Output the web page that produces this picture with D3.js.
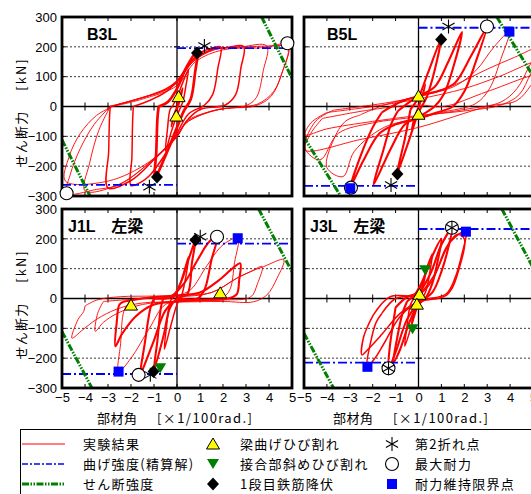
<!DOCTYPE html>
<html>
<head>
<meta charset="utf-8">
<script src="https://cdn.jsdelivr.net/npm/d3@7"></script>
<style>
  body { margin: 0; background: #fff; }
  svg { display: block; }
</style>
</head>
<body>
<script>
// axis values
const xTicks = [-5, -4, -3, -2, -1, 0, 1, 2, 3, 4, 5];
const xTickLabels = ["−5", "−4", "−3", "−2", "−1", "0", "1", "2", "3", "4", "5"];
const yTicks = [-300, -200, -100, 0, 100, 200, 300];
const yTickLabels = ["−300", "−200", "−100", "0", "100", "200", "300"];
const gridValues = [-200, -100, 100, 200];

// hysteresis loops: [rotation x1/100 rad, shear kN], n = repeated cycles
const b3lLoops = [
  {n: 2, pts: [[0,0],[0.12,35],[0.25,62],[0.16,28],[0.05,0],[-0.1,-30],[-0.25,-68],[-0.15,-30],[0,0]]},
  {n: 2, pts: [[-0.2,0],[0,30],[0.25,80],[0.5,125],[0.4,75],[0.25,15],[0,-30],[-0.25,-85],[-0.5,-150],[-0.42,-80],[-0.3,-10],[-0.2,0]]},
  {n: 4, pts: [[-0.8,0],[-0.4,15],[0,60],[0.4,130],[0.88,185],[0.78,110],[0.6,25],[0.3,-15],[0,-70],[-0.5,-165],[-0.95,-236],[-0.9,-150],[-0.85,-40],[-0.8,0]]},
  {n: 2, pts: [[-1.9,0],[-1.2,20],[-0.5,48],[0,85],[0.5,140],[1,180],[1.5,195],[1.9,200],[1.78,130],[1.55,40],[1.2,5],[0.5,-25],[0,-90],[-0.6,-170],[-1.2,-232],[-1.6,-255],[-2,-265],[-1.96,-170],[-1.93,-50],[-1.9,0]]},
  {n: 2, pts: [[-2.9,0],[-2,18],[-1.16,38],[-0.5,58],[0,85],[0.7,155],[1.5,190],[2.2,198],[2.9,201],[2.78,130],[2.55,40],[2.1,5],[1,-10],[0.4,-50],[0,-100],[-0.9,-170],[-2,-248],[-3,-273],[-2.97,-150],[-2.93,-30],[-2.9,0]]},
  {n: 1, pts: [[-2.9,0],[-1.5,30],[-0.5,55],[0,80],[0.7,150],[1.6,190],[2.8,200],[3.9,203],[3.75,120],[3.45,30],[3.0,3],[1.7,-12],[0.4,-55],[0,-100],[-0.9,-168],[-2.5,-260],[-4.0,-283],[-3.8,-190],[-3.4,-80],[-2.9,0]]},
  {n: 1, pts: [[-2.9,0],[-1.5,30],[-0.5,55],[0,80],[0.7,150],[1.6,190],[3,200],[4,203],[4.85,207],[4.6,120],[4.2,50],[3.5,8],[2.5,-3],[1.5,-15],[0.4,-55],[0,-100],[-1,-175],[-2.5,-262],[-3.5,-278],[-4.8,-291],[-4.65,-230],[-4.2,-140],[-3.6,-60],[-2.9,0]]},
  {n: 1, pts: [[-2.8,0],[-1.5,25],[0,70],[0.8,150],[2,190],[3.5,196],[4.8,198],[4.55,110],[4.1,35],[3.4,2],[2,-8],[0.5,-45],[0,-95],[-1.2,-185],[-3,-250],[-4.85,-250],[-4.7,-170],[-4.2,-90],[-3.5,-30],[-2.8,0]]}
];
const b5lLoops = [
  {n: 2, pts: [[0,0],[0.15,35],[0.3,75],[0.2,40],[0.05,5],[-0.1,-25],[-0.3,-80],[-0.2,-40],[0,0]]},
  {n: 3, pts: [[-0.35,-10],[0,30],[0.4,110],[0.97,222],[0.7,120],[0.35,30],[0,-20],[-0.4,-110],[-0.95,-228],[-0.6,-110],[-0.35,-10]]},
  {n: 3, pts: [[-0.9,-15],[-0.4,15],[0,35],[0.7,65],[1.3,150],[1.9,250],[1.55,140],[1.1,40],[0.7,0],[0,-35],[-0.6,-60],[-1.2,-140],[-1.97,-263],[-1.55,-150],[-1.2,-60],[-0.9,-15]]},
  {n: 3, pts: [[-1.6,-20],[-0.8,15],[0,35],[1.0,55],[1.6,80],[2.3,170],[2.97,262],[2.5,150],[2.0,50],[1.5,0],[0.8,-20],[0,-40],[-1.0,-60],[-1.7,-90],[-2.4,-180],[-2.98,-270],[-2.5,-160],[-2.0,-70],[-1.6,-20]]},
  {n: 1, pts: [[-2.6,-30],[-1.5,5],[0,35],[1.5,65],[2.5,120],[3.3,200],[3.97,251],[3.6,160],[3.1,60],[2.5,10],[1,-20],[0,-40],[-1.5,-70],[-2.8,-150],[-3.3,-235],[-4.0,-205],[-3.7,-110],[-3.2,-50],[-2.6,-30]]},
  {n: 1, pts: [[-3.7,-12],[-1.5,11],[0,33],[1.5,70],[3,125],[4.2,165],[5.2,195],[4.8,130],[4.3,60],[3.6,15],[2,-10],[0,-34],[-2,-55],[-3.5,-90],[-4.3,-179],[-4.95,-140],[-4.5,-50],[-3.7,-12]]},
  {n: 1, pts: [[-4,-20],[-2,0],[0,25],[2,60],[3.5,100],[5.2,150],[4.9,110],[4.4,40],[3.6,5],[2,-15],[0,-30],[-2,-50],[-4,-75],[-4.95,-95],[-4.7,-55],[-4,-20]]},
  {n: 1, pts: [[-4.2,-40],[-2,-10],[0,5],[1.1,0],[3,50],[5.2,105],[4.9,70],[4.3,20],[3,0],[0,-70],[-2.5,-110],[-4.95,-146],[-4.7,-90],[-4.2,-40]]}
];
const j1lLoops = [
  {n: 2, pts: [[-0.2,0],[0,20],[0.3,90],[0.5,140],[0.4,80],[0.2,10],[0,-20],[-0.3,-100],[-0.55,-170],[-0.45,-90],[-0.3,-10],[-0.2,0]]},
  {n: 3, pts: [[-0.6,0],[-0.2,5],[0.2,60],[0.5,130],[0.8,195],[0.65,120],[0.45,15],[0,0],[-0.3,-30],[-0.6,-130],[-1.0,-238],[-0.85,-140],[-0.7,-30],[-0.6,0]]},
  {n: 3, pts: [[-1.0,0],[-0.3,5],[0.3,50],[0.9,130],[1.4,190],[1.74,207],[1.5,130],[1.2,30],[0.9,0],[0,-5],[-0.5,-40],[-1.0,-140],[-1.4,-220],[-1.6,-256],[-1.4,-150],[-1.15,-30],[-1.0,0]]},
  {n: 1, pts: [[-2.0,-5],[-1,5],[0,10],[0.6,30],[1.3,110],[2.0,180],[2.64,202],[2.5,120],[2.3,30],[2.0,5],[0.5,-5],[-0.5,-20],[-1.2,-100],[-2.0,-200],[-2.54,-245],[-2.45,-150],[-2.3,-40],[-2.0,-5]]},
  {n: 3, pts: [[-2.3,-10],[-1,5],[0,10],[1,20],[1.8,60],[2.4,100],[2.75,118],[2.7,60],[2.6,15],[2.2,0],[1,-5],[0,-10],[-1,-20],[-1.8,-60],[-2.4,-120],[-2.68,-160],[-2.62,-80],[-2.5,-20],[-2.3,-10]]},
  {n: 1, pts: [[-3.2,-10],[-1.5,0],[0,5],[1.5,20],[2.6,68],[3.2,90],[3.7,107],[3.5,50],[3.2,5],[2,-5],[0,-10],[-1.5,-20],[-2.6,-50],[-3.2,-80],[-3.55,-110],[-3.45,-50],[-3.2,-10]]},
  {n: 1, pts: [[-4.0,-25],[-3.48,-5],[-2.47,6],[-1,8],[0,10],[1.5,20],[2.6,68],[3.19,90],[3.77,107],[4.64,130],[4.35,68],[3.91,12],[3.33,-11],[2,-10],[0,-12],[-1.5,-15],[-2.6,-35],[-3.5,-70],[-4.1,-105],[-4.57,-133],[-4.3,-70],[-4.06,-44],[-4.0,-25]]}
];
const j3lLoops = [
  {n: 2, pts: [[0,0],[0.15,40],[0.3,80],[0.2,40],[0.05,0],[-0.1,-30],[-0.3,-85],[-0.2,-40],[0,0]]},
  {n: 2, pts: [[-0.2,0],[0.1,40],[0.35,100],[0.6,150],[0.5,90],[0.3,20],[0,-20],[-0.3,-90],[-0.6,-160],[-0.5,-90],[-0.35,-20],[-0.2,0]]},
  {n: 3, pts: [[-0.5,-10],[-0.1,20],[0.3,80],[0.65,150],[1.0,200],[0.85,130],[0.6,50],[0.3,0],[0,-20],[-0.4,-80],[-0.8,-170],[-1.1,-215],[-0.95,-140],[-0.7,-50],[-0.5,-10]]},
  {n: 3, pts: [[-1.0,-30],[-0.5,5],[0,20],[0.5,80],[1.0,180],[1.46,235],[1.3,170],[1.0,90],[0.6,20],[0,-15],[-0.5,-70],[-1.0,-180],[-1.31,-236],[-1.25,-160],[-1.1,-80],[-1.0,-30]]},
  {n: 2, pts: [[-1.6,-50],[-1,0],[0,15],[0.7,80],[1.4,190],[2.07,226],[1.9,150],[1.6,70],[1.2,15],[0,-10],[-0.8,-60],[-1.5,-150],[-1.9,-200],[-2.25,-229],[-2.1,-150],[-1.85,-80],[-1.6,-50]]},
  {n: 2, pts: [[-1.97,-55],[-1.24,6],[0,12],[0.6,60],[1.2,170],[1.7,215],[2.0,200],[1.82,112],[1.24,12],[0,-11],[-0.8,-50],[-1.6,-120],[-2.2,-170],[-2.47,-189],[-2.4,-130],[-2.2,-90],[-1.97,-55]]}
];

// event points
const b3lMarks = {crack: [[0.07,33],[-0.03,-32]], joint: [], yieldPt: [[0.87,179],[-0.87,-236]],
  second: [[1.19,203],[-1.2,-269]], maxPt: [[4.8,212],[-4.8,-291]], limit: []};
const b5lMarks = {crack: [[0,35],[0,-26]], joint: [], yieldPt: [[0.99,225],[-0.92,-226]],
  second: [[1.31,268],[-1.2,-263]], maxPt: [[2.99,268],[-2.95,-272]], limit: [[3.97,251],[-2.98,-274]]};
const j1lMarks = {crack: [[-2.0,-22],[1.88,19]], joint: [[-0.73,-234]], yieldPt: [[0.8,196],[-1.02,-245]],
  second: [[1.01,207],[-1.16,-256]], maxPt: [[1.74,207],[-1.67,-256]], limit: [[2.64,202],[-2.54,-245]]};
const j3lMarks = {crack: [[0.04,14],[-0.07,-19]], joint: [[0.29,95],[-0.26,-103]], yieldPt: [],
  second: [[1.46,237],[-1.31,-234]], maxPt: [[1.46,237],[-1.31,-234]], limit: [[2.07,224],[-2.23,-229]]};

// flexural strength (+, -) and shear strength lines
const b3lFlex = [196, -263];
const b5lFlex = [264, -266];
const j1lFlex = [184, -253];
const j3lFlex = [233, -215];
const b3lShear = [[[3.68,300],[5,95]], [[-5,-112],[-3.78,-300]]];
const b5lShear = [[[3.42,300],[5.2,78]], [[-5.02,-101],[-3.4,-300]]];
const j1lShear = [[[3.55,300],[5,90]], [[-5,-111],[-3.7,-300]]];
const j3lShear = [[[3.64,300],[5.2,75]], [[-5,-117],[-3.71,-300]]];

const legendRows = [
  ["実験結果", "梁曲げひび割れ", "第2折れ点"],
  ["曲げ強度(精算解)", "接合部斜めひび割れ", "最大耐力"],
  ["せん断強度", "1段目鉄筋降伏", "耐力維持限界点"]
];

const panels = [
  {label: "B3L", loops: b3lLoops, marks: b3lMarks, flex: b3lFlex, shear: b3lShear,
   xr: [62, 292], yr: [196, 17], lx: 87, left: true, bottom: false},
  {label: "B5L", loops: b5lLoops, marks: b5lMarks, flex: b5lFlex, shear: b5lShear,
   xr: [304, 533], yr: [196, 17], lx: 327, left: false, bottom: false},
  {label: "J1L　左梁", loops: j1lLoops, marks: j1lMarks, flex: j1lFlex, shear: j1lShear,
   xr: [62, 292], yr: [388, 209], lx: 68, left: true, bottom: true},
  {label: "J3L　左梁", loops: j3lLoops, marks: j3lMarks, flex: j3lFlex, shear: j3lShear,
   xr: [304, 533], yr: [388, 209], lx: 310, left: false, bottom: true}
];

const numFont = "'Liberation Sans', Arial, sans-serif";
const jpFont = "'Noto Sans CJK JP', sans-serif";
const RED = "#ff0000", BLUE = "#0000ff", GREEN = "#008000", YELLOW = "#ffff00";

const svg = d3.select("body").append("svg")
  .attr("width", 531).attr("height", 494)
  .style("background", "#fff");

// marker drawers
function upTri(g, x, y) {
  g.append("path").attr("d", `M${x},${y-6}L${x+6.5},${y+5}L${x-6.5},${y+5}Z`)
    .attr("fill", YELLOW).attr("stroke", "#000").attr("stroke-width", 1);
}
function downTri(g, x, y) {
  g.append("path").attr("d", `M${x-6},${y-5}L${x+6},${y-5}L${x},${y+5}Z`)
    .attr("fill", GREEN);
}
function diamond(g, x, y) {
  g.append("path").attr("d", `M${x},${y-6.5}L${x+6},${y}L${x},${y+6.5}L${x-6},${y}Z`)
    .attr("fill", "#000");
}
function star(g, x, y) {
  const r = 7;
  [90, 30, 150].forEach(a => {
    const dx = r * Math.cos(a * Math.PI / 180), dy = r * Math.sin(a * Math.PI / 180);
    g.append("line").attr("x1", x - dx).attr("y1", y - dy).attr("x2", x + dx).attr("y2", y + dy)
      .attr("stroke", "#000").attr("stroke-width", 1.1);
  });
}
function circ(g, x, y) {
  g.append("circle").attr("cx", x).attr("cy", y).attr("r", 6.5)
    .attr("fill", "#fff").attr("stroke", "#000").attr("stroke-width", 1.1);
}
function square(g, x, y) {
  g.append("rect").attr("x", x - 5).attr("y", y - 5).attr("width", 10).attr("height", 10)
    .attr("fill", BLUE);
}

panels.forEach((p, i) => {
  const xs = d3.scaleLinear().domain([-5, 5]).range(p.xr);
  const ys = d3.scaleLinear().domain([-300, 300]).range(p.yr);
  const x0 = p.xr[0], x1 = p.xr[1], yTop = p.yr[1], yBot = p.yr[0];
  const g = svg.append("g");

  const clipId = "clip" + i;
  svg.append("clipPath").attr("id", clipId).append("rect")
    .attr("x", x0).attr("y", yTop).attr("width", x1 - x0).attr("height", yBot - yTop);

  // dashed grid
  g.selectAll(".grid").data(gridValues).join("line")
    .attr("x1", x0).attr("x2", x1)
    .attr("y1", d => ys(d)).attr("y2", d => ys(d))
    .attr("stroke", "#222").attr("stroke-width", 0.9).attr("stroke-dasharray", "2,2");

  // zero axes
  g.append("line").attr("x1", x0).attr("x2", x1).attr("y1", ys(0)).attr("y2", ys(0))
    .attr("stroke", "#000").attr("stroke-width", 1.3);
  g.append("line").attr("x1", xs(0)).attr("x2", xs(0)).attr("y1", yTop).attr("y2", yBot)
    .attr("stroke", "#000").attr("stroke-width", 1.3);

  // ticks
  xTicks.forEach(t => {
    const x = xs(t);
    g.append("line").attr("x1", x).attr("x2", x).attr("y1", ys(0) - 4).attr("y2", ys(0) + 4)
      .attr("stroke", "#000").attr("stroke-width", 1);
    g.append("line").attr("x1", x).attr("x2", x).attr("y1", yTop).attr("y2", yTop + 4)
      .attr("stroke", "#000").attr("stroke-width", 1);
    g.append("line").attr("x1", x).attr("x2", x).attr("y1", yBot - 4).attr("y2", yBot)
      .attr("stroke", "#000").attr("stroke-width", 1);
  });
  yTicks.forEach(t => {
    const y = ys(t);
    g.append("line").attr("x1", xs(0) - 3).attr("x2", xs(0) + 3).attr("y1", y).attr("y2", y)
      .attr("stroke", "#000").attr("stroke-width", 1);
    g.append("line").attr("x1", x0).attr("x2", x0 + 4).attr("y1", y).attr("y2", y)
      .attr("stroke", "#000").attr("stroke-width", 1);
  });

  // hysteresis loops
  const line = d3.line().x(d => xs(d[0])).y(d => ys(d[1]))
    .curve(d3.curveCatmullRom.alpha(0.5));
  const loopG = g.append("g").attr("clip-path", `url(#${clipId})`);
  loopG.selectAll("path").data(p.loops).join("path")
    .attr("d", d => line(d.pts))
    .attr("fill", "none").attr("stroke", RED)
    .attr("stroke-width", d => 0.9 + 0.6 * (d.n - 1))
    .attr("stroke-linejoin", "round");

  // flexural strength
  loopG.append("line").attr("x1", xs(0)).attr("x2", xs(5))
    .attr("y1", ys(p.flex[0])).attr("y2", ys(p.flex[0]))
    .attr("stroke", BLUE).attr("stroke-width", 1.8).attr("stroke-dasharray", "9,3,2,3");
  loopG.append("line").attr("x1", xs(-5)).attr("x2", xs(0))
    .attr("y1", ys(p.flex[1])).attr("y2", ys(p.flex[1]))
    .attr("stroke", BLUE).attr("stroke-width", 1.8).attr("stroke-dasharray", "9,3,2,3");

  // shear strength
  p.shear.forEach(s => {
    loopG.append("line")
      .attr("x1", xs(s[0][0])).attr("y1", ys(s[0][1]))
      .attr("x2", xs(s[1][0])).attr("y2", ys(s[1][1]))
      .attr("stroke", GREEN).attr("stroke-width", 3).attr("stroke-dasharray", "7,1.5,1.5,1.5,1.5,1.5");
  });

  // frame
  g.append("rect").attr("x", x0).attr("y", yTop).attr("width", x1 - x0).attr("height", yBot - yTop)
    .attr("fill", "none").attr("stroke", "#000").attr("stroke-width", 2.8);

  // panel label
  g.append("text").attr("x", p.lx).attr("y", yTop + 23)
    .attr("font-family", numFont + ", " + jpFont).attr("font-weight", "bold")
    .attr("font-size", 16).text(p.label);

  // markers
  const m = p.marks;
  m.maxPt.forEach(d => circ(g, xs(d[0]), ys(d[1])));
  m.limit.forEach(d => square(g, xs(d[0]), ys(d[1])));
  m.crack.forEach(d => upTri(g, xs(d[0]), ys(d[1])));
  m.joint.forEach(d => downTri(g, xs(d[0]), ys(d[1])));
  m.yieldPt.forEach(d => diamond(g, xs(d[0]), ys(d[1])));
  m.second.forEach(d => star(g, xs(d[0]), ys(d[1])));

  // axes labels
  if (p.left) {
    const ax = g.append("g").attr("transform", `translate(${x0},0)`)
      .call(d3.axisLeft(ys).tickValues(yTicks).tickSize(0).tickPadding(5)
        .tickFormat((d, k) => yTickLabels[k]));
    ax.select(".domain").remove();
    ax.selectAll("text").attr("font-family", numFont).attr("font-size", 13).attr("fill", "#000");

    g.append("text").attr("transform", `translate(26,${yTop + 57}) rotate(-90)`)
      .attr("text-anchor", "middle").attr("font-family", jpFont).attr("font-size", 13)
      .attr("letter-spacing", 2).text("[kN]");
    g.append("text").attr("transform", `translate(26,${yTop + 122}) rotate(-90)`)
      .attr("text-anchor", "middle").attr("font-family", jpFont).attr("font-size", 13)
      .attr("letter-spacing", 1.2).text("せん断力");
  }
  if (p.bottom) {
    const ax = g.append("g").attr("transform", `translate(0,${yBot})`)
      .call(d3.axisBottom(xs).tickValues(xTicks).tickSize(0).tickPadding(5)
        .tickFormat((d, k) => xTickLabels[k]));
    ax.select(".domain").remove();
    ax.selectAll("text").attr("font-family", numFont).attr("font-size", 13).attr("fill", "#000");

    const tx = p.left ? 97 : 333;
    g.append("text").attr("x", tx).attr("y", 423).attr("font-family", jpFont)
      .attr("font-size", 13).attr("letter-spacing", 0.5).text("部材角");
    g.append("text").attr("x", tx + 60).attr("y", 423).attr("font-family", jpFont)
      .attr("font-size", 13).attr("textLength", 95).attr("lengthAdjust", "spacing")
      .text("[×1/100rad.]");
  }
});

// legend
const lg = svg.append("g");
lg.append("rect").attr("x", 20.5).attr("y", 429.5).attr("width", 530).attr("height", 80)
  .attr("fill", "none").attr("stroke", "#000").attr("stroke-width", 1);
const rowY = [444, 464, 484];
lg.append("line").attr("x1", 22).attr("x2", 65).attr("y1", rowY[0]).attr("y2", rowY[0])
  .attr("stroke", RED).attr("stroke-width", 1);
lg.append("line").attr("x1", 22).attr("x2", 65).attr("y1", rowY[1]).attr("y2", rowY[1])
  .attr("stroke", BLUE).attr("stroke-width", 1.3).attr("stroke-dasharray", "6,2,2,2");
lg.append("line").attr("x1", 22).attr("x2", 65).attr("y1", rowY[2]).attr("y2", rowY[2])
  .attr("stroke", GREEN).attr("stroke-width", 3).attr("stroke-dasharray", "7,1.5,1.5,1.5,1.5,1.5");
upTri(lg, 213, rowY[0]);
downTri(lg, 213, rowY[1]);
diamond(lg, 213, rowY[2]);
star(lg, 392, rowY[0]);
circ(lg, 392, rowY[1]);
square(lg, 392, rowY[2]);
const colX = [83, 240, 415];
legendRows.forEach((row, r) => {
  row.forEach((t, c) => {
    lg.append("text").attr("x", colX[c]).attr("y", rowY[r] + 4.5)
      .attr("font-family", jpFont).attr("font-size", 13).attr("letter-spacing", 1.3)
      .text(t);
  });
});
</script>
</body>
</html>
